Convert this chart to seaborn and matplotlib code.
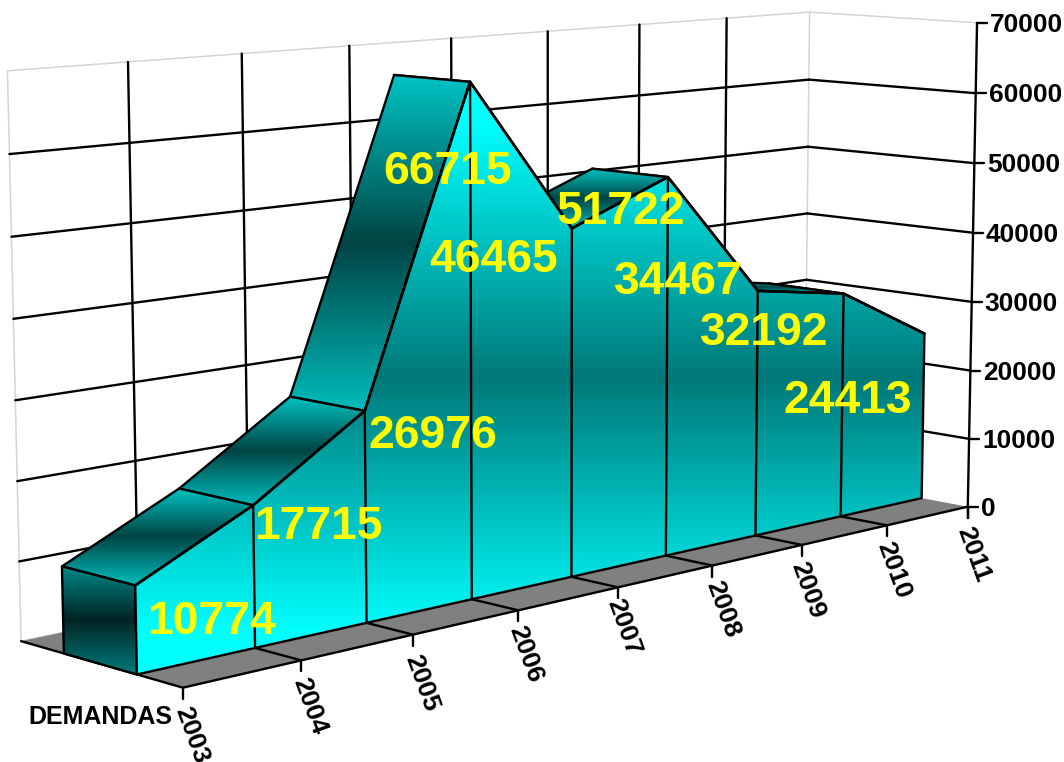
import numpy as np
import pandas as pd
import seaborn as sns
import matplotlib
matplotlib.use("Agg")
import matplotlib.pyplot as plt
from matplotlib.colors import LinearSegmentedColormap
from matplotlib.patches import Polygon

# ---------- data ----------
years = [2003, 2004, 2005, 2006, 2007, 2008, 2009, 2010, 2011]
demandas = [10774, 17715, 26976, 66715, 46465, 51722, 34467, 32192, 24413]
value_ticks = [0, 10000, 20000, 30000, 40000, 50000, 60000, 70000]
series_name = "DEMANDAS"

# ---------- label placement (pixels from each data point on the front face) ----------
label_offsets = [(76, 37), (65, 22), (68, 25), (-23, 90), (-78, 32),
                 (-47, 35), (-79, -9), (-79, 39), (-77, 67)]
year_label_offsets = [(9, 47), (8, 46), (9, 48), (7, 44), (6, 40), (10, 44), (6, 45), (7, 45), (6, 48)]

# ---------- camera calibration: (year index, depth, value/1e4) -> canvas pixel ----------
# depth: 0 = front edge of the floor, 1 = back wall, "F"/"B" = front/back of the area (fitted)
calibration = [
    (0, 0, 0, 183, 688), (1, 0, 0, 302, 660), (2, 0, 0, 413, 635), (3, 0, 0, 517, 612),
    (4, 0, 0, 618, 590), (5, 0, 0, 711, 568), (6, 0, 0, 802, 547), (7, 0, 0, 886, 527),
    (8, 0, 0, 967, 506), (8, 0, 1, 969, 437), (8, 0, 2, 970, 371), (8, 0, 3, 972, 302),
    (8, 0, 4, 974, 233), (8, 0, 5, 975, 163), (8, 0, 6, 976, 94), (8, 0, 7, 977, 23),
    (8, 1, 7, 810, 13), (8, 1, 6, 808, 80), (8, 1, 5, 808, 147), (8, 1, 4, 807, 214), (8, 1, 3, 807, 279),
    (0, 1, 7, 6, 70), (0, 1, 6, 10, 155), (0, 1, 5, 12, 237), (0, 1, 4, 14, 319),
    (0, 1, 3, 16, 401), (0, 1, 2, 18, 481), (0, 1, 1, 20, 562), (0, 1, 0, 20, 642),
    (1, 1, 7, 127, 63), (2, 1, 7, 241, 52),
    (0, "F", 0, 136, 674), (1, "F", 0, 254, 645), (2, "F", 0, 366, 622), (3, "F", 0, 472, 600),
    (4, "F", 0, 572, 576), (5, "F", 0, 666, 554), (6, "F", 0, 756, 534), (7, "F", 0, 840, 515),
    (8, "F", 0, 924, 497),
    (0, "F", 1.0774, 136, 585), (1, "F", 1.7715, 254, 504), (2, "F", 2.6976, 366, 409),
    (3, "F", 6.6715, 471, 82), (4, "F", 4.6465, 572, 228), (5, "F", 5.1722, 667, 178),
    (6, "F", 3.4467, 757, 290), (7, "F", 3.2192, 844, 294), (8, "F", 2.4413, 924, 333),
    (0, "B", 0, 62, 655), (0, "B", 1.0774, 62, 566), (1, "B", 1.7715, 181, 489),
    (2, "B", 2.6976, 291, 397), (3, "B", 6.6715, 393, 74), (5, "B", 5.1722, 592, 168),
]


def residuals(q):
    M = np.append(q[:11], 1.0).reshape(3, 4)
    out = []
    for (X, D, Z, u, v) in calibration:
        d = q[11] if D == "F" else q[12] if D == "B" else D
        h = M @ np.array([X, d, Z, 1.0])
        out += [h[0] / h[2] - u, h[1] / h[2] - v]
    return np.array(out)


# linear start, with the area depths first guessed
rows = []
for X, D, Z, u, v in calibration:
    d = 0.27 if D == "F" else 0.73 if D == "B" else D
    rows.append([X, d, Z, 1, 0, 0, 0, 0, -u * X, -u * d, -u * Z, -u])
    rows.append([0, 0, 0, 0, X, d, Z, 1, -v * X, -v * d, -v * Z, -v])
start = np.linalg.svd(np.array(rows, float))[2][-1]
q = np.append(start[:11] / start[11], [0.27, 0.73])
# Gauss-Newton refinement of the pixel error
for _ in range(40):
    r = residuals(q)
    J = np.zeros((len(r), len(q)))
    for k in range(len(q)):
        step = np.zeros(len(q))
        step[k] = 1e-6 * max(abs(q[k]), 1e-3)
        J[:, k] = (residuals(q + step) - r) / step[k]
    q = q + np.linalg.lstsq(J, -r, rcond=None)[0]
P = np.append(q[:11], 1.0).reshape(3, 4)
DEPTH_FRONT, DEPTH_BACK = q[11], q[12]


def project(i, depth, value):
    p = P @ np.array([i, depth, value / 1e4, 1.0])
    return p[0] / p[2], p[1] / p[2]


# ---------- figure ----------
sns.set_theme(style="white")
plt.rcParams["font.family"] = ["Liberation Sans", "DejaVu Sans"]
fig = plt.figure(figsize=(10.64, 7.62), dpi=100)
ax = fig.add_axes([0, 0, 1, 1])
ax.set_axis_off()

BLACK = "#000000"
LW = 1.7
LIGHT = "#d4d4d4"
n = len(years)


def segment(a, b, color=BLACK, lw=LW, z=2):
    ax.plot([a[0], b[0]], [a[1], b[1]], color=color, lw=lw, zorder=z, solid_capstyle="round")


def grad_poly(points, ends, mid, z, flat=0.0):
    pts = np.array(points)
    stops = [(0, ends[0])]
    if flat:
        stops.append((flat, ends[0]))
    stops.append((0.5, mid))
    if flat:
        stops.append((1 - flat, ends[1]))
    stops.append((1, ends[1]))
    cmap = LinearSegmentedColormap.from_list("g", stops)
    top, bottom = pts[:, 1].min(), pts[:, 1].max()
    left, right = pts[:, 0].min(), pts[:, 0].max()
    grad = np.linspace(0, 1, 256).reshape(-1, 1)
    im = ax.imshow(grad, cmap=cmap, extent=(left, right, bottom, top), aspect="auto",
                   origin="upper", zorder=z, interpolation="bilinear")
    im.set_clip_path(Polygon(pts, transform=ax.transData))
    ax.add_patch(Polygon(pts, closed=True, fill=False, edgecolor=BLACK, lw=LW, zorder=z + 0.1,
                         joinstyle="round"))


# walls: light frame
last = n - 1
segment(project(0, 1, 0), project(0, 1, 70000), LIGHT, 1.1, 1)
segment(project(0, 1, 70000), project(last, 1, 70000), LIGHT, 1.1, 1)
segment(project(last, 1, 70000), project(last, 0, 70000), LIGHT, 1.1, 1)
segment(project(last, 1, 0), project(last, 1, 70000), LIGHT, 1.1, 1)
segment(project(0, 1, 0), project(last, 1, 0), LIGHT, 1.1, 1)

# wall grid
for v in value_ticks[1:-1]:
    segment(project(0, 1, v), project(last, 1, v), z=1.5)
    segment(project(last, 1, v), project(last, 0, v), z=1.5)
for i in range(1, last):
    segment(project(i, 1, 0), project(i, 1, 70000), z=1.5)

# floor
floor = [project(0, 1, 0), project(0, 0, 0), project(last, 0, 0), project(last, 1, 0)]
ax.add_patch(Polygon(floor, closed=True, facecolor="#808080", edgecolor="none", zorder=2))
segment(project(0, 1, 0), project(0, 0, 0), z=2.2)
segment(project(0, 0, 0), project(last, 0, 0), z=2.2)
for i in range(1, last):
    segment(project(i, 0, 0), project(i, DEPTH_FRONT, 0), z=2.2)

# year ticks + labels
for i, (yr, off) in enumerate(zip(years, year_label_offsets)):
    x, y = project(i, 0, 0)
    segment((x, y), (x, y + 11), z=2.2)
    ax.text(x + off[0], y + off[1], str(yr), rotation=-70, ha="center", va="center",
            fontsize=19, fontweight="bold", color=BLACK, rotation_mode="anchor", zorder=6)

# value axis + labels
axis_low = project(last, 0, 0)
axis_high = project(last, 0, 70000)
segment(axis_high, axis_low, z=5)
segment(axis_low, (axis_low[0], axis_low[1] + 11), z=5)
for v in value_ticks:
    x, y = project(last, 0, v)
    segment((x, y), (x + 10, y), z=5)
    ax.text(x + 13, y + 2, str(v), ha="left", va="center", fontsize=19, fontweight="bold",
            color=BLACK, zorder=6)

# area: roofs from right to left, left side, then the front face
for i in range(last - 1, -1, -1):
    roof = [project(i, DEPTH_FRONT, demandas[i]), project(i + 1, DEPTH_FRONT, demandas[i + 1]),
            project(i + 1, DEPTH_BACK, demandas[i + 1]), project(i, DEPTH_BACK, demandas[i])]
    grad_poly(roof, ("#00c4c4", "#00bcbc"), "#004444", 3 + (last - i) * 0.2)

side = [project(0, DEPTH_FRONT, demandas[0]), project(0, DEPTH_FRONT, 0),
        project(0, DEPTH_BACK, 0), project(0, DEPTH_BACK, demandas[0])]
grad_poly(side, ("#008c8c", "#007c7c"), "#002424", 4.8)

front = [project(i, DEPTH_FRONT, demandas[i]) for i in range(n)]
front_poly = front + [project(last, DEPTH_FRONT, 0), project(0, DEPTH_FRONT, 0)]
grad_poly(front_poly, ("#00ffff", "#00ffff"), "#007878", 5, flat=0.07)
for i in range(1, last):
    segment(project(i, DEPTH_FRONT, demandas[i]), project(i, DEPTH_FRONT, 0), z=5.3)

# top outline of the front face via seaborn
outline = pd.DataFrame(front, columns=["sx", "sy"])
outline["year"] = years
sns.lineplot(data=outline, x="sx", y="sy", sort=False, estimator=None, color=BLACK, lw=LW + 0.2,
             ax=ax, zorder=5.4, legend=False)

# data labels
for i, val in enumerate(demandas):
    x, y = front[i]
    ox, oy = label_offsets[i]
    ax.text(x + ox, y + oy, str(val), ha="center", va="center", fontsize=33.3, fontweight="bold",
            color="#ffff00", zorder=7)

ax.text(100, 717, series_name, ha="center", va="center", fontsize=18, fontweight="bold",
        color=BLACK, zorder=6)

ax.set_xlim(0, 1064)
ax.set_ylim(762, 0)
ax.set_xlabel("")
ax.set_ylabel("")
ax.set_axis_off()
fig.savefig("out.png", dpi=100, facecolor="white")
